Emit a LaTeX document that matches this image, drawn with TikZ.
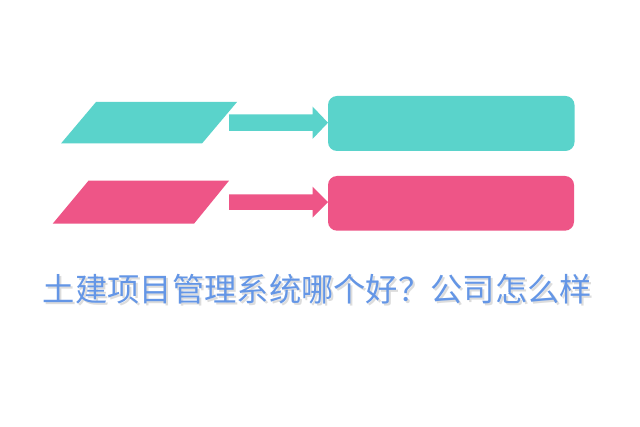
\documentclass[tikz,border=0pt]{standalone}
\usepackage{fontspec}
\newfontfamily\cjk{Noto Sans CJK SC}
\definecolor{teal1}{RGB}{90,211,203}
\definecolor{pink1}{RGB}{238,85,135}
\definecolor{blue1}{RGB}{100,150,230}
\begin{document}
\begin{tikzpicture}[x=1pt,y=-1pt,
  box/.style={rounded corners=9pt},
  title/.style={font=\cjk\fontsize{32.3}{35}\selectfont, inner sep=0pt, anchor=center}]
\useasboundingbox (0,0) rectangle (640,427);
\fill[white] (0,0) rectangle (640,427);
% top row
\fill[teal1] (96,102) -- (237,102) -- (202,143.5) -- (61,143.5) -- cycle;
\fill[teal1] (229,114.5) -- (312.5,114.5) -- (312.5,106.5) -- (328,122.7) -- (312.5,139) -- (312.5,131) -- (229,131) -- cycle;
\fill[teal1,box] (328,96) rectangle (574.5,151);
% bottom row
\fill[pink1] (88.5,180.7) -- (229,180.7) -- (194,223.7) -- (52.7,223.7) -- cycle;
\fill[pink1] (229,194.3) -- (312.5,194.3) -- (312.5,186.7) -- (328,202) -- (312.5,217.7) -- (312.5,210) -- (229,210) -- cycle;
\fill[pink1,box] (328,176) rectangle (574,230.7);
% title
\node[title, text=black!30, opacity=0.45] (shadow) at (319.5,291.5) {土建项目管理系统哪个好？公司怎么样};
\node[title, text=blue1] (title) at (317.5,289.5) {土建项目管理系统哪个好？公司怎么样};
\end{tikzpicture}
\end{document}
